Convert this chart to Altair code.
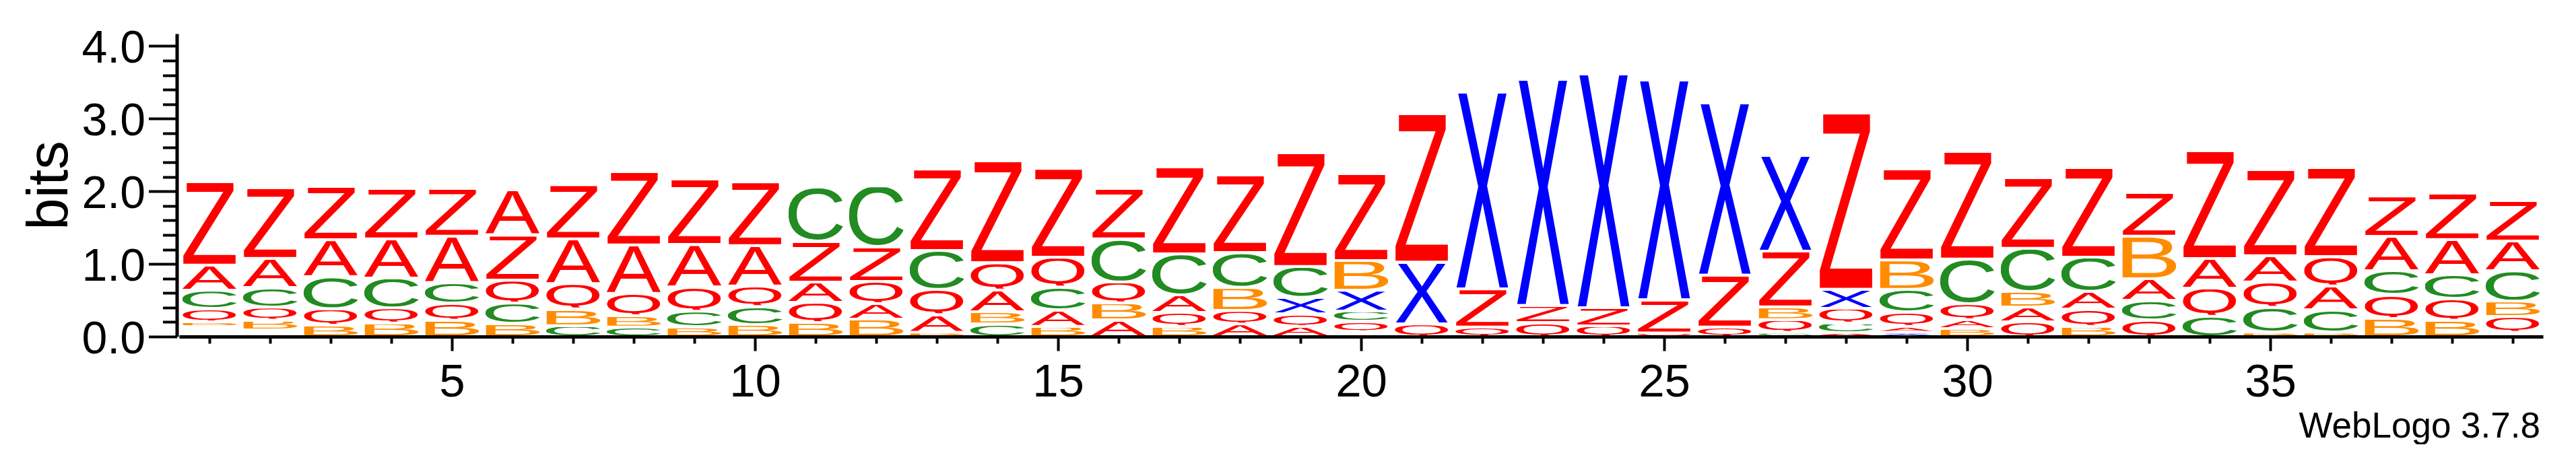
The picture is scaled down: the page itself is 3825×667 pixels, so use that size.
import base64
import altair as alt
import pandas as pd

POSITIONS = list(range(1, 40))

# letters of each stack, bottom -> top ("-" = empty space in the stack)
STACK_LETTERS = [
    "-BQCAZ", "-BQCAZ", "BQCAZ", "BQCAZ", "BQCAZ", "BCQZA", "CBQAZ", "CBQAZ",
    "BCQAZ", "BCQAZ", "BQAZC", "BAQZC", "BAQCZ", "CBAQZ", "BACQZ", "ABQCZ",
    "BQACZ", "AQBCZ", "AQXCZ", "-QCXBZ", "QXZ", "QZX", "QZX", "QZX", "QZX",
    "QZX", "CQBZX", "ACQXZ", "XAQCBZ", "BAQCZ", "QABCZ", "BQACZ", "QCABZ",
    "CQAZ", "BCQAZ", "BCAQZ", "BQCAZ", "BQCAZ", "-QBCAZ",
]

# height (bits) of each letter, same order
STACK_BITS = [
    [0.136, 0.068, 0.179, 0.253, 0.349, 1.150],
    [0.090, 0.136, 0.179, 0.268, 0.405, 0.979],
    [0.158, 0.225, 0.445, 0.503, 0.736],
    [0.188, 0.207, 0.411, 0.541, 0.695],
    [0.226, 0.234, 0.285, 0.639, 0.658],
    [0.182, 0.278, 0.315, 0.620, 0.625],
    [0.151, 0.232, 0.346, 0.618, 0.748],
    [0.133, 0.157, 0.306, 0.667, 1.011],
    [0.133, 0.216, 0.334, 0.587, 0.902],
    [0.167, 0.247, 0.284, 0.556, 0.875],
    [0.195, 0.275, 0.281, 0.559, 0.747],
    [0.241, 0.216, 0.303, 0.473, 0.840],
    [0.060, 0.243, 0.349, 0.534, 1.119],
    [0.173, 0.170, 0.299, 0.374, 1.406],
    [0.142, 0.226, 0.315, 0.408, 1.223],
    [0.229, 0.237, 0.287, 0.594, 0.695],
    [0.142, 0.192, 0.241, 0.562, 1.199],
    [0.173, 0.186, 0.315, 0.482, 1.071],
    [0.142, 0.170, 0.226, 0.429, 1.563],
    [0.070, 0.140, 0.142, 0.284, 0.411, 1.202],
    [0.173, 0.850, 2.045],
    [0.133, 0.525, 2.706],
    [0.195, 0.234, 3.111],
    [0.148, 0.251, 3.218],
    [0.050, 0.457, 3.024],
    [0.133, 0.713, 2.370],
    [0.060, 0.175, 0.176, 0.766, 1.319],
    [0.050, 0.138, 0.201, 0.263, 2.425],
    [0.060, 0.082, 0.192, 0.318, 0.401, 1.258],
    [0.111, 0.124, 0.216, 0.618, 1.483],
    [0.204, 0.201, 0.216, 0.596, 0.979],
    [0.142, 0.238, 0.241, 0.473, 1.232],
    [0.226, 0.271, 0.300, 0.587, 0.612],
    [0.281, 0.386, 0.408, 1.483],
    [0.060, 0.345, 0.349, 0.361, 1.190],
    [0.060, 0.308, 0.330, 0.402, 1.226],
    [0.250, 0.325, 0.333, 0.470, 0.556],
    [0.226, 0.293, 0.334, 0.484, 0.637],
    [0.060, 0.215, 0.213, 0.420, 0.408, 0.556],
]

Y_TICK_VALUES = [0.0, 0.2, 0.4, 0.6, 0.8, 1.0, 1.2, 1.4, 1.6, 1.8, 2.0,
                 2.2, 2.4, 2.6, 2.8, 3.0, 3.2, 3.4, 3.6, 3.8, 4.0]
CAPTION = "WebLogo 3.7.8"

# ---------------- styles ----------------
COLORS = {"A": "#ff0000", "Z": "#ff0000", "Q": "#ff0000",
          "C": "#228b22", "B": "#ff8c00", "X": "#0000ff"}
# glyph ink boxes in 1/1000 em: (x0, x1, top, descent)
INK = {"A": (0, 667, 688, 0), "B": (73, 614, 688, 0), "C": (48, 680, 700, 12),
       "Q": (39, 740, 700, 55), "X": (4, 663, 688, 0), "Z": (20, 591, 688, 0)}
FONT = "Liberation Sans"


def glyph_url(ch):
    x0, x1, top, desc = INK[ch]
    w, h = x1 - x0, top + desc
    svg = (f'<svg xmlns="http://www.w3.org/2000/svg" width="{w}" height="{h}" '
           f'viewBox="{x0} {-top} {w} {h}" preserveAspectRatio="none">'
           f'<text x="0" y="0" font-family="{FONT}, Arial, sans-serif" '
           f'font-size="1000" fill="{COLORS[ch]}">{ch}</text></svg>')
    return "data:image/svg+xml;base64," + base64.b64encode(svg.encode()).decode()


rows = []
for pos, letters, bits in zip(POSITIONS, STACK_LETTERS, STACK_BITS):
    cum = 0.0
    for ch, b in zip(letters, bits):
        if ch != "-":
            rows.append({"pos": pos, "letter": ch, "lo": cum, "hi": cum + b,
                         "url": glyph_url(ch)})
        cum += b
df = pd.DataFrame(rows)

x_axis = alt.Axis(
    values=POSITIONS,
    labelExpr="datum.value % 5 === 0 ? datum.value : ''",
    tickSize={"condition": {"test": "datum.value % 5 === 0", "value": 21}, "value": 10},
    tickWidth=4, tickColor="black", domainWidth=5, domainColor="black",
    labelFont=FONT, labelFontSize=69, labelColor="black", labelPadding=12,
    labelAngle=0, grid=False, title=None,
)
y_axis = alt.Axis(
    values=Y_TICK_VALUES,
    labelExpr="abs(datum.value - round(datum.value)) < 1e-6 ? format(datum.value, '.1f') : ''",
    tickSize={"condition": {"test": "abs(datum.value - round(datum.value)) < 1e-6", "value": 42}, "value": 21},
    tickWidth=4, tickColor="black", domainWidth=5, domainColor="black",
    labelFont=FONT, labelFontSize=68, labelColor="black", labelPadding=5,
    labelOffset=4, offset=3.5, grid=False,
    title="bits", titleFont=FONT, titleFontSize=85, titleFontWeight="normal",
    titleColor="black", titleAngle=-90, titleX=-163, titleY=225,
    titleAlign="center", titleBaseline="alphabetic",
)

chart = alt.Chart(df).transform_calculate(
    inset="min(0.0185, 0.3 * (datum.hi - datum.lo))",
).transform_calculate(
    y_lo="datum.lo + datum.inset",
    y_hi="datum.hi - datum.inset",
    x_lo="datum.pos - 0.45",
    x_hi="datum.pos + 0.45",
).mark_image(aspect=False).encode(
    x=alt.X("x_lo:Q", scale=alt.Scale(domain=[0.5, 39.5], nice=False, zero=False), axis=x_axis),
    x2="x_hi:Q",
    y=alt.Y("y_lo:Q", scale=alt.Scale(domain=[0, 4.17], nice=False), axis=y_axis),
    y2="y_hi:Q",
    url="url:N",
).properties(
    width=3510, height=450,
    background="white",
    title=alt.TitleParams(CAPTION, orient="bottom", anchor="end", frame="group",
                          font=FONT, fontSize=53, fontWeight="normal", color="black",
                          offset=6, dx=-4),
    autosize=alt.AutoSizeParams(type="none"),
    padding={"left": 258, "top": 42, "right": 40, "bottom": 160},
).configure_view(
    stroke="transparent", strokeWidth=0,
)

chart.save("out.html", embed_options={"renderer": "svg", "actions": False})
